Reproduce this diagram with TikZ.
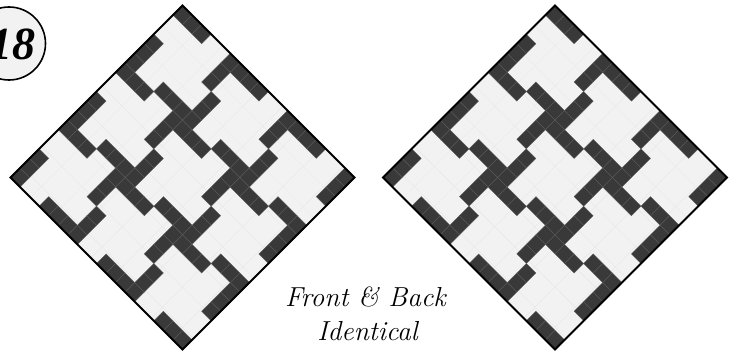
\documentclass[tikz,border=0pt]{standalone}
\usepackage{fontspec}
\newfontfamily\numfont{Liberation Serif}
\definecolor{lightcell}{HTML}{F2F2F2}
\definecolor{lightline}{HTML}{E6E6E6}
\definecolor{darkcell}{HTML}{393939}
\definecolor{darkline}{HTML}{5A5A5A}
\tikzset{
  litecell/.style={fill=lightcell},
  blackcell/.style={fill=darkcell, draw=darkline, line width=0.35pt},
  frameline/.style={draw=black, line width=1.8pt, line join=miter},
  lbl/.style={inner sep=0pt, font=\fontsize{27.5}{30}\selectfont\itshape}
}
\begin{document}
\begin{tikzpicture}[x=1pt,y=-1pt]
\useasboundingbox (0,0) rectangle (739,356);
\foreach \cx in {182.5,555}{
  \begin{scope}[shift={(\cx,5.5)}, x=13.514pt, y=-13.514pt, rotate=-45]
    \fill[litecell] (0,0) rectangle (18,18);
    \draw[lightline, line width=0.3pt] (0,0) grid (18,18);
    \foreach \i in {0,6,12}{
      \foreach \j in {0,6,12}{
        \foreach \a/\b in {0/0,1/0,2/0,5/0,5/1,5/2,0/3,0/4,0/5,3/5,4/5,5/5}{
          \filldraw[blackcell] (\i+\a,\j+\b) rectangle +(1,1);
        }
      }
    }
    \draw[frameline] (0,0) rectangle (18,18);
  \end{scope}
}
\node[circle, draw=black, line width=1.6pt, fill=lightcell, minimum size=73pt, inner sep=0pt] (badge) at (9,43.5) {};
\node[anchor=base east, inner sep=0pt, font=\numfont\fontsize{46}{46}\selectfont\bfseries\itshape] (num) at (36,59) {18};
\node[lbl, anchor=base] (front) at (365.5,306) {Front \& Back};
\node[lbl, anchor=base] (ident) at (367.5,340) {Identical};
\end{tikzpicture}
\end{document}
